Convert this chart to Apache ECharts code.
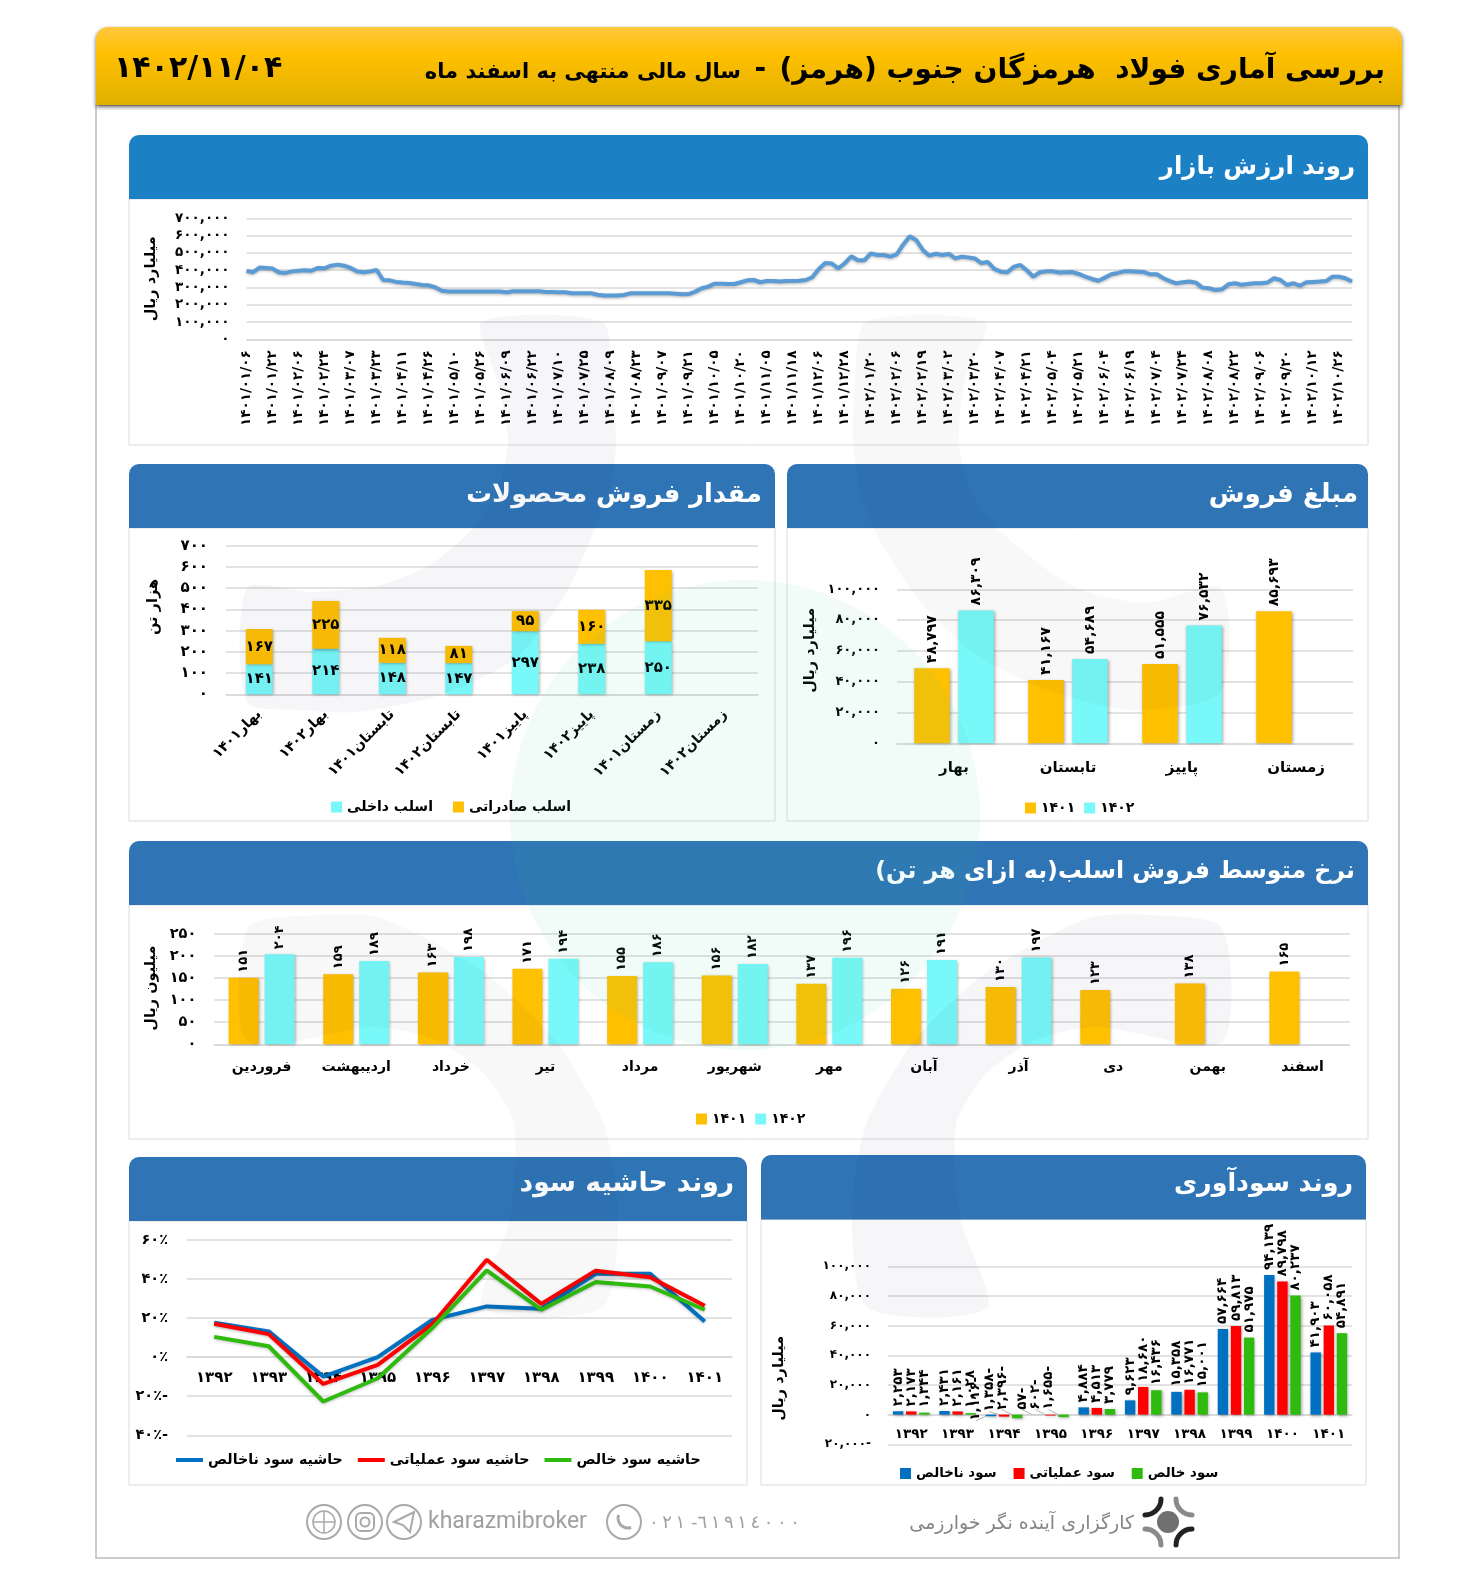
<!DOCTYPE html>
<html><head><meta charset="utf-8">
<style>html,body{margin:0;padding:0;background:#fff}#c{width:1477px;height:1585px}</style>
<script src="https://cdn.jsdelivr.net/npm/echarts@6/dist/echarts.min.js"></script>
</head><body><div id="c"></div>
<script>
const FONT='"DejaVu Sans"';
const dateTicks=['1401/01/06','1401/01/22','1401/02/06','1401/02/24','1401/03/07','1401/03/23','1401/04/11','1401/04/26','1401/05/10','1401/05/26','1401/06/09','1401/06/22','1401/07/10','1401/07/25','1401/08/09','1401/08/23','1401/09/07','1401/09/21','1401/10/05','1401/10/20','1401/11/05','1401/11/18','1401/12/06','1401/12/28','1402/01/20','1402/02/06','1402/02/19','1402/03/02','1402/03/20','1402/04/07','1402/04/21','1402/05/04','1402/05/21','1402/06/04','1402/06/19','1402/07/04','1402/07/24','1402/08/08','1402/08/22','1402/09/06','1402/09/20','1402/10/12','1402/10/26'];
const marketCap=[395000,388000,415000,413000,409000,386000,384000,393000,397000,399000,397000,413000,411000,426000,432000,426000,413000,393000,388000,393000,401000,343000,341000,332000,328000,326000,320000,314000,312000,301000,281000,276000,276000,276000,276000,276000,276000,276000,276000,276000,272000,278000,278000,278000,278000,278000,274000,274000,272000,272000,266000,266000,266000,266000,258000,254000,254000,254000,256000,266000,266000,266000,266000,266000,266000,266000,264000,260000,262000,276000,295000,305000,322000,322000,320000,320000,330000,341000,343000,330000,337000,337000,335000,337000,337000,339000,343000,359000,407000,441000,438000,411000,440000,480000,457000,457000,497000,488000,488000,478000,492000,549000,596000,573000,517000,484000,495000,488000,494000,468000,478000,474000,468000,441000,447000,407000,391000,388000,420000,430000,399000,362000,388000,393000,393000,386000,388000,389000,378000,362000,349000,339000,357000,376000,384000,393000,393000,391000,389000,376000,376000,353000,337000,324000,330000,334000,328000,299000,295000,285000,289000,318000,324000,316000,320000,324000,324000,328000,353000,343000,314000,324000,310000,330000,332000,334000,337000,362000,362000,353000,334000];

const volumeCats=['بهار۱۴۰۱','بهار۱۴۰۲','تابستان۱۴۰۱','تابستان۱۴۰۲','پاییز۱۴۰۱','پاییز۱۴۰۲','زمستان۱۴۰۱','زمستان۱۴۰۲'];
const volumeDomestic=[141,214,148,147,297,238,250,null];
const volumeExport=[167,225,118,81,95,160,335,null];

const seasonCats=['بهار','تابستان','پاییز','زمستان'];
const sales1401=[48797,41167,51555,85693];
const sales1402=[86309,54689,76532,null];

const monthCats=['فروردین','اردیبهشت','خرداد','تیر','مرداد','شهریور','مهر','آبان','آذر','دی','بهمن','اسفند'];
const rate1401=[151,159,163,171,155,156,137,126,130,123,138,165];
const rate1402=[204,189,198,194,186,182,196,191,197,null,null,null];

const yearCats=['۱۳۹۲','۱۳۹۳','۱۳۹۴','۱۳۹۵','۱۳۹۶','۱۳۹۷','۱۳۹۸','۱۳۹۹','۱۴۰۰','۱۴۰۱'];
const grossProfit=[2253,2431,-1116,-57,4884,9623,15358,57664,94139,41903];
const operatingProfit=[2173,2161,-1358,-602,4513,18680,16771,59813,89798,60058];
const netProfit=[1344,1028,-2396,-1655,3779,16436,15001,51975,80237,54891];

const grossMargin=[17.6,13.2,-9.9,0,19.1,26,24.8,42.7,42.7,18.3];
const operatingMargin=[17.1,11.8,-13.7,-3.9,16.9,49.9,27.3,44.3,40.9,26.3];
const netMargin=[10.4,5.6,-22.7,-10.8,14.9,44.4,24.3,38.5,36.2,24.3];

const ORANGE='#ffc000',CYAN='#78f8f8',BLUE='#0070c0',RED='#ff0000',GREEN='#2fba0e',GRID='#d9d9d9';
const fa=s=>String(s).replace(/\d/g,d=>'۰۱۲۳۴۵۶۷۸۹'[d]);
const num=v=>v==null?'':(v<0?fa(Math.abs(v).toLocaleString('en-US'))+'-':fa(v.toLocaleString('en-US')));
const dateCats=[];dateTicks.forEach((d,i)=>{dateCats.push(fa(d));if(i<dateTicks.length-1)dateCats.push('','','');else dateCats.push('','');});

const chart=echarts.init(document.getElementById('c'),null,{renderer:'canvas'});
const shadow={shadowBlur:3,shadowColor:'rgba(0,0,0,.35)',shadowOffsetX:1,shadowOffsetY:1};
const T=(extra)=>Object.assign({color:'#000',fontFamily:FONT,fontWeight:'bold'},extra);

function xAx(gi,data,extra){return Object.assign({type:'category',gridIndex:gi,data,axisTick:{show:false},axisLine:{onZero:false,lineStyle:{color:GRID,width:1.5}},splitLine:{show:false}},extra);}
function yAx(gi,min,max,interval,fmt,size,margin,name,nameGap,namePad){return {type:'value',gridIndex:gi,min,max,interval,axisLine:{show:false},axisTick:{show:false},
  splitLine:{lineStyle:{color:GRID,width:1.5}},axisLabel:T({formatter:fmt,fontSize:size,margin}),
  name:name||'',nameLocation:'middle',nameGap:nameGap||0,nameRotate:90,nameTextStyle:T({fontSize:14.5,padding:namePad||0})};}

const grids=[
 {left:246.6,top:218.3,width:1105.4,height:121},
 {left:226,top:545.7,width:532,height:148.6},
 {left:897,top:589.3,width:456,height:154},
 {left:214.3,top:934,width:1135.5,height:110.3},
 {left:888,top:1266.3,width:464,height:178},
 {left:187,top:1240,width:545,height:195.3}
];
const xAxis=[
 xAx(0,dateCats,{boundaryGap:false,axisLabel:T({interval:3,rotate:90,fontSize:13.5,margin:11})}),
 xAx(1,volumeCats,{axisLabel:T({interval:0,rotate:45,fontSize:14,margin:18})}),
 xAx(2,seasonCats,{axisLabel:T({interval:0,fontSize:15,margin:17})}),
 xAx(3,monthCats,{axisLabel:T({interval:0,fontSize:14,margin:16})}),
 xAx(4,yearCats,{offset:-29.67,axisLabel:T({interval:0,fontSize:13.5,margin:13})}),
 xAx(5,yearCats,{offset:-78.12,axisLabel:T({interval:0,fontSize:15,margin:13})})
];
const yAxis=[
 yAx(0,0,700000,100000,v=>num(v),13.5,17,'میلیارد ریال',88),
 yAx(1,0,700,100,v=>num(v),15,18,'هزار تن',65,[0,0,0,26]),
 yAx(2,0,100000,20000,v=>num(v),13,17,'میلیارد ریال',79,[0,0,0,32]),
 yAx(3,0,250,50,v=>num(v),14.5,18,'میلیون ریال',52,[0,0,0,2]),
 yAx(4,-20000,100000,20000,v=>num(v),12,17,'میلیارد ریال',101,[0,46,0,0]),
 yAx(5,-40,60,20,v=>v<0?fa(-v)+'٪-':fa(v)+'٪',14.5,19)
];
const rotLabel=(size,dist)=>T({show:true,position:'top',rotate:90,align:'left',verticalAlign:'middle',distance:dist,fontSize:size,formatter:p=>num(p.value)});
const bar=(name,gi,data,color,opt)=>Object.assign({type:'bar',name,xAxisIndex:gi,yAxisIndex:gi,data,itemStyle:Object.assign({color},shadow)},opt);
const lineS=(name,data,color)=>({type:'line',name,xAxisIndex:5,yAxisIndex:5,data,symbol:'none',smooth:false,lineStyle:Object.assign({color,width:4},{shadowBlur:3,shadowColor:'rgba(0,0,0,.25)',shadowOffsetY:1}),itemStyle:{color}});
const stackLabel=T({show:true,position:'inside',fontSize:15,formatter:p=>num(p.value)});

function profitData(arr){return arr.map(v=>v<0?{value:v,labelLine:{show:true,lineStyle:{color:'#b5b5b5',width:1}}}:v);}
function profitLayout(shift){return p=>(p.dataIndex===2||p.dataIndex===3)?{dy:-15,dx:p.dataIndex===2?shift:0}:{};}
const profit=(name,arr,color,shift)=>bar(name,4,profitData(arr),color,{barWidth:10.4,barGap:'26%',label:rotLabel(13.5,5),labelLayout:profitLayout(shift)});

const series=[
 {type:'line',name:'ارزش بازار',xAxisIndex:0,yAxisIndex:0,data:marketCap,symbol:'none',lineStyle:{color:'#5b9bd5',width:4,shadowBlur:3,shadowColor:'rgba(0,0,0,.3)',shadowOffsetY:1},itemStyle:{color:'#5b9bd5'}},
 bar('اسلب داخلی',1,volumeDomestic,CYAN,{stack:'v',barWidth:27,label:stackLabel}),
 bar('اسلب صادراتی',1,volumeExport,ORANGE,{stack:'v',barWidth:27,label:stackLabel}),
 bar('۱۴۰۱',2,sales1401,ORANGE,{barWidth:35.5,barGap:'24%',label:rotLabel(14,5)}),
 bar('۱۴۰۲',2,sales1402,CYAN,{barWidth:35.5,barGap:'24%',label:rotLabel(14,5)}),
 bar('۱۴۰۱',3,rate1401,ORANGE,{barWidth:30,barGap:'20%',label:rotLabel(13,5)}),
 bar('۱۴۰۲',3,rate1402,CYAN,{barWidth:30,barGap:'20%',label:rotLabel(13,5)}),
 profit('سود ناخالص',grossProfit,BLUE,-11),
 profit('سود عملیاتی',operatingProfit,RED,-2),
 profit('سود خالص',netProfit,GREEN,0),
 lineS('حاشیه سود ناخالص',grossMargin,BLUE),
 lineS('حاشیه سود عملیاتی',operatingMargin,RED),
 lineS('حاشیه سود خالص',netMargin,GREEN)
];
const leg=(left,top,data,extra)=>Object.assign({left,top,data,orient:'horizontal',itemWidth:11,itemHeight:11,itemGap:20,icon:'rect',selectedMode:false,padding:0,textStyle:T({fontSize:14})},extra);
const legend=[
 leg(331,800,['اسلب داخلی','اسلب صادراتی']),
 leg(1025,801,['۱۴۰۱','۱۴۰۲'],{itemGap:9}),
 leg(696,1112,['۱۴۰۱','۱۴۰۲'],{itemGap:9}),
 leg(900,1467,['سود ناخالص','سود عملیاتی','سود خالص'],{itemGap:17,textStyle:T({fontSize:13.3})}),
 leg(176,1453,['حاشیه سود ناخالص','حاشیه سود عملیاتی','حاشیه سود خالص'],{itemWidth:27,itemHeight:4,itemGap:15,textStyle:T({fontSize:14.2})})
];

// decoration ---------------------------------------------------------------
const G=[];
const WM1='rgba(40,40,120,.042)',WM2='rgba(0,0,0,.026)',WM3='rgba(60,200,160,.07)';
G.push({type:'rect',z:-2,shape:{x:96,y:105,width:1303,height:1453},style:{fill:'#fff',stroke:'#bdbdbd',lineWidth:1.5}});
function panel(x,y,w,hh,bottom,color,title,size,tr,ty){
  G.push({type:'rect',shape:{x:x,y:y+hh,width:w,height:bottom-y-hh},style:{fill:'none',stroke:'#dcdcdc',lineWidth:1}});
  G.push({type:'rect',shape:{x,y,width:w,height:hh,r:[10,10,0,0]},style:{fill:color}});
  G.push({type:'text',style:{x:tr,y:ty,text:title,fill:'#fff',font:'bold '+size+'px '+FONT,textAlign:'right',textVerticalAlign:'middle'}});
}
const C1='#1b80c4',C2='#2f75b5';
panel(129,135,1239,64,445,C1,'روند ارزش بازار',24.5,1355,168);
panel(787,464,581,64,821,C2,'مبلغ فروش',26,1358,495);
panel(129,464,646,64,821,C2,'مقدار فروش محصولات',25.7,762,495);
panel(129,841,1239,64,1139,C2,'نرخ متوسط فروش اسلب(به ازای هر تن)\u200F',23.7,1355,872);
panel(129,1157,618,64,1485,C2,'روند حاشیه سود',26.6,734,1184);
panel(761,1155,605,64.5,1485,C2,'روند سودآوری',25.3,1353,1184);

// watermark: lies over the whole page, very pale
const WMZ=50;
const poly=(points,fill)=>G.push({type:'polygon',z:WMZ,shape:{points,smooth:.25},style:{fill}});
G.push({type:'circle',z:WMZ,shape:{cx:745,cy:815,r:235},style:{fill:WM3}});
poly([[482,322],[497,380],[508,440],[497,490],[473,528],[430,565],[380,585],[310,592],[247,588],[247,702],[300,710],[356,712],[440,695],[516,658],[565,595],[595,528],[612,480],[616,440],[612,380],[602,322]],WM1);
poly([[866,322],[855,380],[853,440],[860,490],[873,528],[917,598],[970,650],[1034,685],[1130,710],[1221,692],[1221,588],[1145,603],[1071,585],[997,528],[970,490],[959,440],[965,380],[985,322]],WM2);
poly([[248,928],[320,915],[381,918],[483,972],[555,1040],[604,1125],[618,1218],[602,1308],[483,1308],[510,1218],[514,1125],[485,1075],[435,1040],[373,1027],[248,1042]],WM2);
poly([[1222,928],[1150,915],[1089,918],[987,972],[915,1040],[866,1125],[852,1218],[868,1308],[987,1308],[960,1218],[956,1125],[985,1075],[1035,1040],[1097,1027],[1222,1042]],WM1);

// top banner
G.push({type:'rect',shape:{x:96,y:27,width:1306,height:78,r:[12,12,0,0]},style:{fill:new echarts.graphic.LinearGradient(0,0,0,1,[{offset:0,color:'#ffc83f'},{offset:.35,color:'#ffc000'},{offset:1,color:'#e0b000'}]),shadowBlur:4,shadowColor:'rgba(0,0,0,.6)',shadowOffsetY:2}});
G.push({type:'text',style:{x:1385,y:71,text:'بررسی آماری فولاد  هرمزگان جنوب (هرمز)\u200F',fill:'#000',font:'bold 28px '+FONT,textAlign:'right',textVerticalAlign:'middle'}});
G.push({type:'text',style:{x:766,y:70,text:'-',fill:'#000',font:'bold 28px '+FONT,textAlign:'right',textVerticalAlign:'middle'}});
G.push({type:'text',style:{x:741,y:73,text:'سال مالی منتهی به اسفند ماه',fill:'#000',font:'bold 21px '+FONT,textAlign:'right',textVerticalAlign:'middle'}});
G.push({type:'text',style:{x:114,y:69,text:fa('1402/11/04'),fill:'#000',font:'bold 30px '+FONT,textAlign:'left',textVerticalAlign:'middle'}});

// footer
const gray='#a9a9a9';
[[1145,1499,0,.5,'#222'],[1192,1499,.5,1,'#8a8a8a'],[1192,1545,1,1.5,'#222'],[1145,1545,1.5,2,'#8a8a8a']].forEach(a=>{
  G.push({type:'arc',shape:{cx:a[0],cy:a[1],r:16,startAngle:a[2]*Math.PI,endAngle:a[3]*Math.PI,clockwise:true},style:{stroke:a[4],lineWidth:5,fill:null,lineCap:'round'}});
});
G.push({type:'circle',shape:{cx:1168,cy:1522,r:11},style:{fill:'#707070'}});
G.push({type:'text',style:{x:1134,y:1524,text:'کارگزاری آینده نگر خوارزمی',fill:'#858585',font:'19px '+FONT,textAlign:'right',textVerticalAlign:'middle'}});
G.push({type:'text',style:{x:428,y:1522,text:'kharazmibroker',fill:'#a0a0a0',font:'400 23px Roboto',textAlign:'left',textVerticalAlign:'middle'}});
G.push({type:'text',style:{x:649,y:1523,text:'\u202D٠\u2009٢\u2009١ -٦\u2009١\u2009٩\u2009١\u2009٤\u2009٠\u2009٠\u2009٠\u202C',fill:'#a0a0a0',font:'18px '+FONT,textAlign:'left',textVerticalAlign:'middle'}});
[624,404,365,324].forEach(cx=>G.push({type:'circle',shape:{cx,cy:1522,r:17},style:{fill:'none',stroke:gray,lineWidth:2}}));
G.push({type:'polygon',shape:{points:[[394,1522],[414,1512],[410,1532],[403,1525]]},style:{fill:'none',stroke:gray,lineWidth:2}});
G.push({type:'rect',shape:{x:356,y:1513,width:18,height:18,r:5},style:{fill:'none',stroke:gray,lineWidth:2}});
G.push({type:'circle',shape:{cx:365,cy:1522,r:4.5},style:{fill:'none',stroke:gray,lineWidth:2}});
G.push({type:'circle',shape:{cx:324,cy:1522,r:11},style:{fill:'none',stroke:gray,lineWidth:1.5}});
G.push({type:'line',shape:{x1:313,y1:1522,x2:335,y2:1522},style:{stroke:gray,lineWidth:1.5}});
G.push({type:'line',shape:{x1:324,y1:1511,x2:324,y2:1533},style:{stroke:gray,lineWidth:1.5}});
G.push({type:'arc',shape:{cx:628,cy:1518,r:10,startAngle:.4*Math.PI,endAngle:1.1*Math.PI,clockwise:true},style:{fill:null,stroke:gray,lineWidth:3}});

chart.setOption({
  animation:false,
  grid:grids.map(g=>Object.assign({containLabel:false},g)),
  xAxis,yAxis,series,legend,
  graphic:{elements:G.map(e=>Object.assign({silent:true,z:-1},e))}
});
</script></body></html>
